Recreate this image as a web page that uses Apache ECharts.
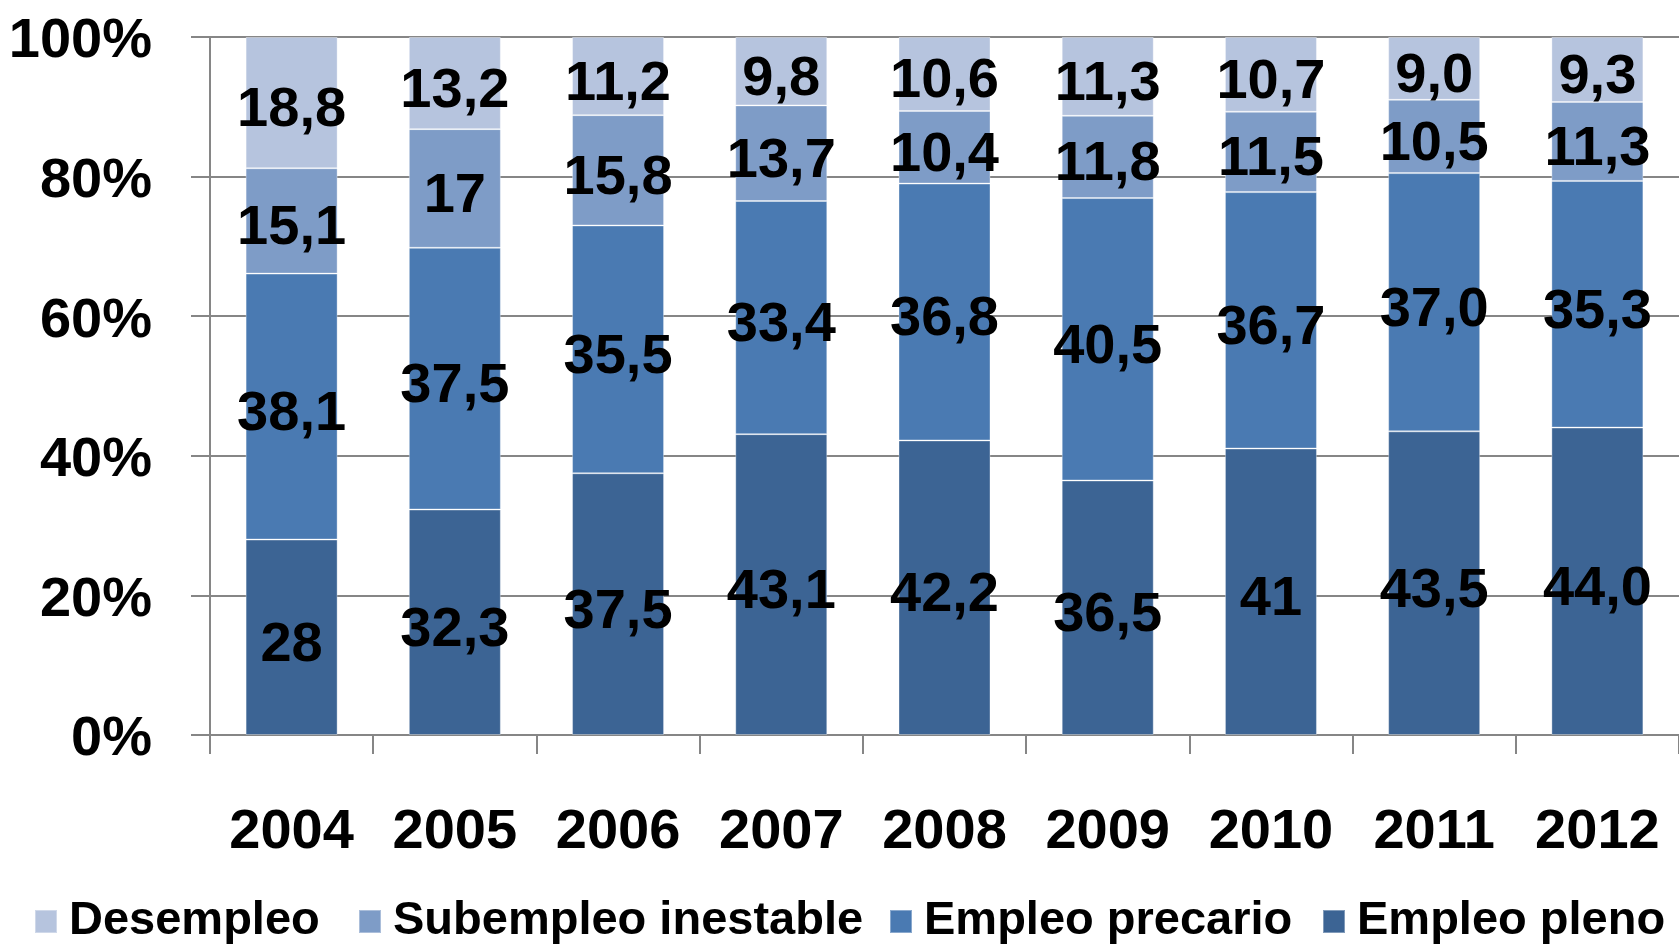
<!DOCTYPE html>
<html>
<head>
<meta charset="utf-8">
<script src="https://cdn.jsdelivr.net/npm/echarts@6/dist/echarts.min.js"></script>
<style>
  html, body { margin: 0; padding: 0; background: #fff; }
  #chart { width: 1679px; height: 944px; }
</style>
</head>
<body>
<div id="chart"></div>
<script>
// años
var years = ["2004", "2005", "2006", "2007", "2008", "2009", "2010", "2011", "2012"];
// valores tal como aparecen en las etiquetas
var desempleo = ["18,8", "13,2", "11,2", "9,8", "10,6", "11,3", "10,7", "9,0", "9,3"];
var subempleo = ["15,1", "17", "15,8", "13,7", "10,4", "11,8", "11,5", "10,5", "11,3"];
var precario = ["38,1", "37,5", "35,5", "33,4", "36,8", "40,5", "36,7", "37,0", "35,3"];
var pleno = ["28", "32,3", "37,5", "43,1", "42,2", "36,5", "41", "43,5", "44,0"];
var yTicks = [0, 20, 40, 60, 80, 100];

var FONT = "Liberation Sans";

function num(s) {
  return parseFloat(s.replace(",", "."));
}

// totales por año para apilar al 100%
var totals = years.map(function (y, i) {
  return num(desempleo[i]) + num(subempleo[i]) + num(precario[i]) + num(pleno[i]);
});

function serie(name, arr, color) {
  return {
    name: name,
    type: "bar",
    stack: "total",
    barWidth: 92,
    itemStyle: { color: color, borderColor: "rgba(255,255,255,0.35)", borderWidth: 1 },
    label: {
      show: true,
      position: "inside",
      offset: [0, 8],
      color: "#000",
      fontFamily: FONT,
      fontWeight: "bold",
      fontSize: 56,
      formatter: function (p) { return arr[p.dataIndex]; }
    },
    data: arr.map(function (s, i) { return num(s) / totals[i] * 100; })
  };
}

function leyenda(name, left) {
  return {
    data: [name],
    left: left,
    top: 898,
    padding: 0,
    icon: "rect",
    itemWidth: 22,
    itemHeight: 23,
    textStyle: {
      color: "#000",
      fontFamily: FONT,
      fontWeight: "bold",
      fontSize: 47,
      lineHeight: 47,
      padding: [0, 0, 0, 7]
    }
  };
}

var chart = echarts.init(document.getElementById("chart"));
chart.setOption({
  animation: false,
  grid: { left: 210, right: -10, top: 37, bottom: 209 },
  legend: [
    leyenda("Desempleo", 34),
    leyenda("Subempleo inestable", 358),
    leyenda("Empleo precario", 889),
    leyenda("Empleo pleno", 1322)
  ],
  xAxis: {
    type: "category",
    data: years,
    axisLine: { lineStyle: { color: "#868686", width: 2 } },
    axisTick: { show: true, length: 19, lineStyle: { color: "#868686", width: 2 } },
    axisLabel: {
      interval: 0,
      color: "#000",
      fontFamily: FONT,
      fontWeight: "bold",
      fontSize: 56,
      margin: 70
    }
  },
  yAxis: {
    type: "value",
    min: yTicks[0],
    max: yTicks[yTicks.length - 1],
    interval: 20,
    axisLine: { show: true, lineStyle: { color: "#868686", width: 2 } },
    axisTick: { show: true, length: 19, lineStyle: { color: "#868686", width: 2 } },
    splitLine: { lineStyle: { color: "#868686", width: 2 } },
    axisLabel: {
      color: "#000",
      fontFamily: FONT,
      fontWeight: "bold",
      fontSize: 56,
      margin: 58,
      formatter: function (v) { return "{v|" + v + "%}"; },
      rich: {
        v: {
          color: "#000",
          fontFamily: FONT,
          fontWeight: "bold",
          fontSize: 56,
          padding: [10, 0, 0, 0]
        }
      }
    }
  },
  series: [
    serie("Empleo pleno", pleno, "#3C6494"),
    serie("Empleo precario", precario, "#4A7AB2"),
    serie("Subempleo inestable", subempleo, "#7E9CC7"),
    serie("Desempleo", desempleo, "#B6C4DE")
  ]
});
</script>
</body>
</html>
